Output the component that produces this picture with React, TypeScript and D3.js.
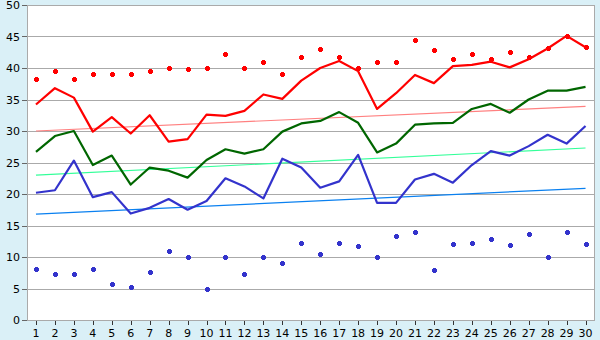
import React from "react";
import * as d3 from "d3";

const categories = Array.from({ length: 30 }, (_, i) => String(i + 1));
const redLine = [34.2, 36.8, 35.3, 29.9, 32.2, 29.6, 32.5, 28.3, 28.7, 32.6, 32.4, 33.2, 35.8, 35.1, 38.0, 40.0, 41.1, 39.5, 33.5, 36.0, 38.9, 37.6, 40.3, 40.5, 41.0, 40.1, 41.4, 43.1, 45.1, 43.3];
const greenLine = [26.7, 29.2, 30.0, 24.6, 26.1, 21.5, 24.2, 23.7, 22.6, 25.4, 27.1, 26.4, 27.1, 29.9, 31.2, 31.6, 33.0, 31.3, 26.6, 28.0, 31.0, 31.2, 31.3, 33.5, 34.3, 32.9, 35.0, 36.4, 36.4, 37.0];
const blueLine = [20.2, 20.6, 25.3, 19.5, 20.3, 16.9, 17.8, 19.2, 17.5, 18.9, 22.5, 21.2, 19.3, 25.6, 24.2, 21.0, 22.0, 26.2, 18.6, 18.6, 22.3, 23.2, 21.8, 24.6, 26.8, 26.1, 27.6, 29.4, 28.0, 30.8];
const redPoints = [38.2, 39.5, 38.2, 39.0, 39.0, 39.0, 39.5, 40.0, 39.8, 40.0, 42.2, 40.0, 41.0, 39.1, 41.8, 43.0, 41.7, 40.0, 41.0, 41.0, 44.5, 42.8, 41.4, 42.2, 41.4, 42.5, 41.8, 43.1, 45.1, 43.3];
const bluePoints = [8.05, 7.25, 7.25, 8.05, 5.65, 5.2, 7.6, 10.9, 9.95, 5.0, 10.0, 7.25, 10.0, 9.0, 12.2, 10.4, 12.2, 11.7, 10.0, 13.3, 13.9, 7.9, 12.0, 12.2, 12.8, 11.85, 13.6, 10.0, 13.9, 12.0];
const trendNames = ["red", "green", "blue"];
const trendStart = [30.0, 23.0, 16.8];
const trendEnd = [33.9, 27.3, 20.9];
const yTicks = [0, 5, 10, 15, 20, 25, 30, 35, 40, 45, 50];

const W = 600, H = 340;
const left = 26.5, right = 595, top = 5, bottom = 320;
const trendColors: Record<string, string> = { red: "#ff8080", green: "#33ff99", blue: "#0a80f0" };

function Marker({ cx, cy, fill }: { cx: number; cy: number; fill: string }) {
  const x0 = Math.round(cx), y0 = Math.round(cy);
  return (
    <g fill={fill} shapeRendering="crispEdges">
      <rect x={x0 - 2.5} y={y0 - 1.5} width={5} height={3} />
      <rect x={x0 - 1.5} y={y0 - 2.5} width={3} height={5} />
    </g>
  );
}

export default function App() {
  if (typeof document !== "undefined") document.body.style.margin = "0";
  const x = d3.scaleBand<string>().domain(categories).range([left, right]).padding(0);
  const cx = (c: string) => (x(c) as number) + x.bandwidth() / 2;
  const y = d3.scaleLinear().domain([0, 50]).range([bottom, top]);
  const line = d3.line<number>().x((_, i) => cx(categories[i])).y((d) => y(d));
  const font = "'DejaVu Sans', Verdana, sans-serif";
  const first = categories[0], last = categories[categories.length - 1];

  return (
    <svg width={W} height={H} style={{ display: "block" }} shapeRendering="crispEdges">
      <rect x={0} y={0} width={W} height={H} fill="#daf0f7" />
      <rect x={left} y={top} width={right - left} height={bottom - top} fill="#ffffff" />
      {yTicks.map((t) => (
        <g key={t}>
          <line x1={left} x2={right} y1={Math.round(y(t)) + 0.5} y2={Math.round(y(t)) + 0.5} stroke="#aaaaaa" />
          <line x1={left - 5} x2={left} y1={Math.round(y(t)) + 0.5} y2={Math.round(y(t)) + 0.5} stroke="#666666" />
          <text x={20} y={y(t) + 4} textAnchor="end" fontFamily={font} fontSize={11} fill="#000">{t}</text>
        </g>
      ))}
      <line x1={Math.round(left) + 0.5} x2={Math.round(left) + 0.5} y1={top} y2={bottom} stroke="#aaaaaa" />
      <line x1={right - 0.5} x2={right - 0.5} y1={top} y2={bottom} stroke="#aaaaaa" />
      {categories.map((c) => (
        <g key={c}>
          <line x1={Math.round(cx(c)) + 0.5} x2={Math.round(cx(c)) + 0.5} y1={bottom} y2={bottom + 5} stroke="#333333" />
          <text x={cx(c)} y={bottom + 17} textAnchor="middle" fontFamily={font} fontSize={11} fill="#000">{c}</text>
        </g>
      ))}
      <g shapeRendering="auto">
        {trendNames.map((n, i) => (
          <line key={n} x1={cx(first)} x2={cx(last)} y1={y(trendStart[i])} y2={y(trendEnd[i])} stroke={trendColors[n]} strokeWidth={1.2} />
        ))}
        <path d={line(blueLine) as string} fill="none" stroke="#3333cc" strokeWidth={2.2} strokeLinejoin="round" />
        <path d={line(greenLine) as string} fill="none" stroke="#006600" strokeWidth={2.2} strokeLinejoin="round" />
        <path d={line(redLine) as string} fill="none" stroke="#ff0000" strokeWidth={2.2} strokeLinejoin="round" />
      </g>
      {redPoints.map((v, i) => (
        <Marker key={"r" + i} cx={cx(categories[i])} cy={y(v)} fill="#ff0000" />
      ))}
      {bluePoints.map((v, i) => (
        <Marker key={"b" + i} cx={cx(categories[i])} cy={y(v)} fill="#3333cc" />
      ))}
      <line x1={left} x2={right} y1={bottom + 0.5} y2={bottom + 0.5} stroke="#aaaaaa" />
    </svg>
  );
}
